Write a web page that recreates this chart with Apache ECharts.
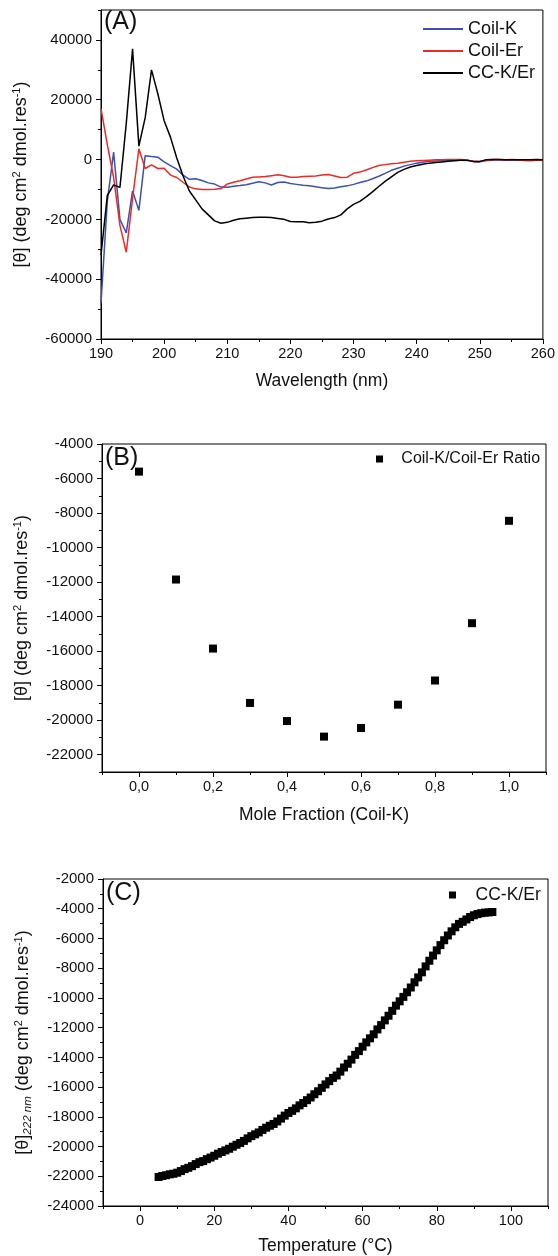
<!DOCTYPE html>
<html>
<head>
<meta charset="utf-8">
<script src="https://cdn.jsdelivr.net/npm/echarts@6/dist/echarts.min.js"></script>
<style>
  html, body { margin: 0; padding: 0; background: #fff; }
  #main { width: 558px; height: 1256px; }
</style>
</head>
<body>
<div id="main"></div>
<script>
// panel A: CD spectra, 1 nm steps
var wavelength = [];
for (let w = 190; w <= 260; w++) wavelength.push(w);
var coilK = [-48000,-14000,2500,-20000,-24500,-10500,-17000,1300,1000,800,
  -800,-2000,-3200,-5200,-6600,-6400,-7000,-7800,-8200,-9200,
  -9300,-8900,-8700,-8400,-7900,-7400,-7800,-8500,-7700,-7500,
  -8000,-8300,-8600,-8800,-9100,-9400,-9700,-9500,-9100,-8800,
  -8300,-7700,-7200,-6400,-5600,-4600,-3600,-2900,-2200,-1700,
  -1200,-900,-600,-500,-400,-300,-200,-200,-300,-500,
  -600,-300,-200,-100,-200,-100,-200,-100,-200,-100,-200];
var coilEr = [17000,5000,-6000,-22000,-31000,-13000,3600,-3000,-1800,-3000,
  -2900,-5200,-6000,-7600,-9200,-9800,-10000,-10000,-9900,-9700,
  -8200,-7600,-7100,-6500,-5900,-5800,-5700,-5400,-5100,-5400,
  -5900,-5900,-5700,-5600,-5500,-5200,-5000,-5500,-6000,-5900,
  -4600,-4200,-3500,-2700,-2000,-1700,-1400,-1200,-900,-600,
  -400,-300,-200,-100,-100,0,0,0,-200,-600,
  -700,-300,0,0,-100,0,-100,-300,-400,-200,-200];
var ccKEr = [-32000,-12000,-8500,-9300,12000,37000,4500,14000,30000,22000,
  13000,7500,500,-5500,-10500,-13500,-16500,-18500,-20500,-21300,
  -21000,-20300,-19800,-19600,-19400,-19300,-19300,-19400,-19700,-20000,
  -20700,-20800,-20800,-21100,-21000,-20600,-19900,-19400,-18500,-16500,
  -15000,-14000,-12500,-10800,-9000,-7300,-5800,-4300,-3300,-2500,
  -2000,-1600,-1200,-1000,-800,-600,-400,-200,-200,-700,
  -700,-100,0,0,-100,-100,-100,-100,-100,0,-100];

// panel B: job plot
var moleFraction = [0.0,0.1,0.2,0.3,0.4,0.5,0.6,0.7,0.8,0.9,1.0];
var ratioTheta = [-5600,-11850,-15850,-19000,-20050,-20950,-20450,-19100,-17700,-14380,-8450];

// panel C: thermal melt at 222 nm, 5..95 C
var temperature = [];
for (let t = 5; t <= 95; t++) temperature.push(t);
var meltTheta = [-22050,-21980,-21930,-21870,-21830,-21760,-21650,-21520,-21430,-21320,
  -21180,-21050,-20980,-20850,-20740,-20620,-20480,-20370,-20260,-20150,
  -20010,-19880,-19760,-19620,-19450,-19300,-19180,-19050,-18880,-18730,
  -18600,-18480,-18310,-18120,-17920,-17740,-17600,-17430,-17230,-17070,
  -16880,-16700,-16480,-16280,-16050,-15820,-15600,-15380,-15220,-14960,
  -14680,-14430,-14150,-13830,-13580,-13280,-12990,-12720,-12450,-12120,
  -11830,-11510,-11200,-10870,-10520,-10230,-9930,-9620,-9300,-8950,
  -8620,-8280,-7880,-7500,-7150,-6800,-6450,-6120,-5800,-5520,
  -5250,-5020,-4880,-4720,-4560,-4440,-4360,-4300,-4260,-4250,-4220];

// tick labels
var aXTicks = [190,200,210,220,230,240,250,260];
var aYTicks = [-60000,-40000,-20000,0,20000,40000];
var bXTicks = [0,0.2,0.4,0.6,0.8,1.0];
var bYTicks = [-22000,-20000,-18000,-16000,-14000,-12000,-10000,-8000,-6000,-4000];
var cXTicks = [0,20,40,60,80,100];
var cYTicks = [-24000,-22000,-20000,-18000,-16000,-14000,-12000,-10000,-8000,-6000,-4000,-2000];

var FONT = '"Liberation Sans", Arial, sans-serif';
var INK = '#111';

var yName = '[θ] (deg cm{sup|2} dmol.res{sup|-1})';
var yNameC = '[θ]{sub|222 nm} (deg cm{sup|2} dmol.res{sup|-1})';
var nameRich = {
  sup: {fontSize: 11, verticalAlign: 'top', lineHeight: 21, fontFamily: FONT, color: INK},
  sub: {fontSize: 11.5, verticalAlign: 'bottom', lineHeight: 21, fontStyle: 'italic', fontFamily: FONT, color: INK}
};
var xNameStyle = {fontSize: 17.5, color: INK, fontFamily: FONT};

function mainAxis(grid, pos, min, max, ticks, fmt, extra) {
  var isY = pos === 'left';
  return Object.assign({
    type: 'value', gridIndex: grid, position: pos, min: min, max: max,
    axisLine: {show: true, onZero: false, lineStyle: {color: '#000', width: 1}},
    axisTick: {show: true, inside: false, length: 5, customValues: ticks, lineStyle: {color: '#000'}},
    axisLabel: {show: true, customValues: ticks, color: INK, fontSize: isY ? 15 : 14.5,
      margin: isY ? 9 : 7, fontFamily: FONT, formatter: fmt},
    splitLine: {show: false},
    nameLocation: 'middle',
    nameTextStyle: {fontSize: 18, color: INK, fontFamily: FONT, lineHeight: 21, rich: nameRich}
  }, extra || {});
}
function minorAxis(grid, pos, min, max, step) {
  return {
    type: 'value', gridIndex: grid, position: pos, min: min, max: max, interval: step,
    axisLine: {show: false, onZero: false},
    axisTick: {show: true, inside: false, length: 3, lineStyle: {color: '#000'}},
    axisLabel: {show: false},
    splitLine: {show: false}
  };
}

var plain = function (v) { return String(v); };
var comma = function (v) { return v.toFixed(1).replace('.', ','); };

var chart = echarts.init(document.getElementById('main'));
chart.setOption({
  animation: false,
  backgroundColor: '#fff',
  grid: [
    {left: 101, top: 10, width: 444, height: 329, show: true, borderColor: '#000', borderWidth: 1},
    {left: 102, top: 444, width: 444, height: 328, show: true, borderColor: '#000', borderWidth: 1},
    {left: 103, top: 879, width: 445, height: 328, show: true, borderColor: '#000', borderWidth: 1}
  ],
  title: [
    {text: '(A)', left: 104, top: 10, padding: 0, textStyle: {fontSize: 25, fontWeight: 'normal', color: INK, fontFamily: FONT}},
    {text: '(B)', left: 105, top: 446, padding: 0, textStyle: {fontSize: 25, fontWeight: 'normal', color: INK, fontFamily: FONT}},
    {text: '(C)', left: 106, top: 881, padding: 0, textStyle: {fontSize: 25, fontWeight: 'normal', color: INK, fontFamily: FONT}}
  ],
  legend: [
    {
      data: ['Coil-K', 'Coil-Er', 'CC-K/Er'], orient: 'vertical', left: 423, top: 20,
      icon: 'rect', itemWidth: 40, itemHeight: 2, itemGap: 4, padding: 0,
      textStyle: {fontSize: 18, color: INK, fontFamily: FONT}
    },
    {
      data: ['Coil-K/Coil-Er Ratio'], left: 376, top: 451, padding: 0,
      icon: 'rect', itemWidth: 7, itemHeight: 7,
      formatter: function (n) { return '   ' + n; },
      textStyle: {fontSize: 16, color: INK, fontFamily: FONT}
    },
    {
      data: [{name: 'CC-K/Er', icon: 'rect'}], left: 449, top: 886, padding: 0,
      itemWidth: 7, itemHeight: 7,
      formatter: function (n) { return '   ' + n; },
      textStyle: {fontSize: 17.5, color: INK, fontFamily: FONT}
    }
  ],
  xAxis: [
    mainAxis(0, 'bottom', 190, 260, aXTicks, plain, {name: 'Wavelength (nm)', nameGap: 33, nameTextStyle: xNameStyle}),
    minorAxis(0, 'bottom', 190, 260, 5),
    mainAxis(1, 'bottom', -0.1, 1.1, bXTicks, comma, {name: 'Mole Fraction (Coil-K)', nameGap: 34, nameTextStyle: xNameStyle}),
    minorAxis(1, 'bottom', -0.1, 1.1, 0.1),
    mainAxis(2, 'bottom', -10, 110, cXTicks, plain, {name: 'Temperature (°C)', nameGap: 31, nameTextStyle: xNameStyle}),
    minorAxis(2, 'bottom', -10, 110, 10)
  ],
  yAxis: [
    mainAxis(0, 'left', -60000, 50000, aYTicks, plain, {name: yName, nameGap: 69}),
    minorAxis(0, 'left', -60000, 50000, 10000),
    mainAxis(1, 'left', -23000, -4000, bYTicks, plain, {name: yName, nameGap: 69}),
    minorAxis(1, 'left', -23000, -4000, 1000),
    mainAxis(2, 'left', -24000, -2000, cYTicks, plain, {name: yNameC, nameGap: 69}),
    minorAxis(2, 'left', -24000, -2000, 1000)
  ],
  series: [
    {name: 'Coil-K', type: 'line', xAxisIndex: 0, yAxisIndex: 0, showSymbol: false, symbol: 'none',
      lineStyle: {color: '#3d50b4', width: 1.5}, itemStyle: {color: '#3d50b4'},
      data: wavelength.map((w, i) => [w, coilK[i]])},
    {name: 'Coil-Er', type: 'line', xAxisIndex: 0, yAxisIndex: 0, showSymbol: false, symbol: 'none',
      lineStyle: {color: '#ec2a24', width: 1.5}, itemStyle: {color: '#ec2a24'},
      data: wavelength.map((w, i) => [w, coilEr[i]])},
    {name: 'CC-K/Er', type: 'line', xAxisIndex: 0, yAxisIndex: 0, showSymbol: false, symbol: 'none',
      lineStyle: {color: '#000', width: 1.5}, itemStyle: {color: '#000'},
      data: wavelength.map((w, i) => [w, ccKEr[i]])},
    {name: 'Coil-K/Coil-Er Ratio', type: 'scatter', xAxisIndex: 2, yAxisIndex: 2,
      symbol: 'rect', symbolSize: 8, itemStyle: {color: '#000', opacity: 1},
      data: moleFraction.map((x, i) => [x, ratioTheta[i]])},
    {name: 'CC-K/Er', type: 'scatter', xAxisIndex: 4, yAxisIndex: 4,
      symbol: 'rect', symbolSize: 8, itemStyle: {color: '#000', opacity: 1},
      data: temperature.map((t, i) => [t, meltTheta[i]])}
  ]
});
</script>
</body>
</html>
